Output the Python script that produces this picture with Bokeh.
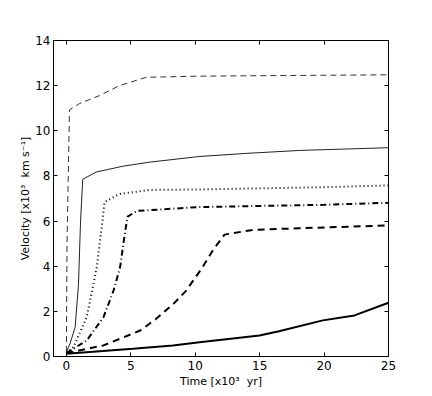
from bokeh.plotting import figure
from bokeh.models import LinearAxis, Range1d, FixedTicker, CustomJSTickFormatter
from bokeh.embed import file_html
from bokeh.resources import INLINE

# Data (time in 10^3 yr, velocity in 10^3 km/s)
t_a = [0.0, 0.05, 0.24, 1.0, 2.57, 4.12, 6.2, 10.3, 15.0, 20.0, 25.0]
v_a = [0.2, 5.0, 10.93, 11.2, 11.56, 12.0, 12.37, 12.42, 12.44, 12.46, 12.48]

t_b = [0.0, 0.3, 0.68, 0.94, 1.1, 1.27, 2.3, 4.38, 6.45, 10.3, 14.0, 18.1, 25.0]
v_b = [0.19, 0.6, 1.3, 3.2, 6.0, 7.85, 8.17, 8.43, 8.61, 8.86, 9.0, 9.13, 9.25]

t_c = [0.0, 0.55, 1.58, 2.36, 2.8, 2.96, 4.12, 6.45, 10.3, 15.0, 20.0, 25.0]
v_c = [0.15, 0.41, 1.74, 3.96, 6.0, 6.84, 7.2, 7.38, 7.4, 7.45, 7.5, 7.58]

t_d = [0.0, 1.58, 2.88, 3.66, 4.17, 4.55, 4.75, 5.47, 10.3, 15.0, 20.0, 25.0]
v_d = [0.15, 0.71, 1.74, 2.92, 3.96, 5.5, 6.2, 6.45, 6.62, 6.67, 6.72, 6.81]

t_e = [0.0, 2.88, 5.73, 6.97, 8.31, 9.3, 10.5, 11.36, 12.27, 14.47, 18.0, 24.7]
v_e = [0.15, 0.49, 1.15, 1.67, 2.33, 2.92, 3.9, 4.7, 5.4, 5.61, 5.68, 5.8]

t_f = [0.0, 5.15, 8.26, 10.33, 14.99, 16.5, 19.9, 22.36, 25.0]
v_f = [0.12, 0.34, 0.49, 0.63, 0.93, 1.12, 1.6, 1.82, 2.38]

x_ticks = [0, 5, 10, 15, 20, 25]
y_ticks = [0, 2, 4, 6, 8, 10, 12, 14]

p = figure(width=424, height=388, output_backend="svg", toolbar_location=None,
           x_range=Range1d(-1, 25), y_range=Range1d(0, 14),
           min_border_left=53, min_border_top=40, min_border_right=35, min_border_bottom=32,
           frame_width=335, frame_height=316)
p.grid.visible = False
p.outline_line_color = "black"
p.outline_line_width = 1
p.background_fill_color = "white"
p.border_fill_color = "white"

p.line(t_a, v_a, line_color="#333333", line_width=1, line_dash="6 4")
p.line(t_b, v_b, line_color="#222222", line_width=1)
p.line(t_c, v_c, line_color="black", line_width=2, line_dash="1 3")
p.line(t_d, v_d, line_color="black", line_width=2, line_dash="6 3 1 3")
p.line(t_e, v_e, line_color="black", line_width=2, line_dash="7 5")
p.line(t_f, v_f, line_color="black", line_width=2)

p.xaxis.axis_label = "Time [x10³\u00a0 yr]"
p.yaxis.axis_label = "Velocity [x10³\u00a0 km s⁻¹]"

for ax in list(p.xaxis) + list(p.yaxis):
    ax.major_tick_in = 4
    ax.major_tick_out = 0
    ax.minor_tick_in = 0
    ax.minor_tick_out = 0
    ax.major_label_text_font = "DejaVu Sans"
    ax.major_label_text_font_size = "12px"
    ax.major_label_text_color = "black"
    ax.axis_label_text_font = "DejaVu Sans"
    ax.axis_label_text_font_size = "11px"
    ax.axis_label_text_font_style = "normal"
    ax.axis_label_text_color = "black"
    ax.axis_line_color = "black"

p.xaxis.major_label_standoff = 4
p.yaxis.major_label_standoff = 3
p.xaxis.axis_label_standoff = 2
p.yaxis.axis_label_standoff = 0

p.xaxis.ticker = FixedTicker(ticks=x_ticks)
p.yaxis.ticker = FixedTicker(ticks=y_ticks)

blank = CustomJSTickFormatter(code="return ''")
top = LinearAxis(ticker=FixedTicker(ticks=x_ticks), major_tick_in=4, major_tick_out=0,
                 minor_tick_in=0, minor_tick_out=0, formatter=blank,
                 axis_line_color="black", major_label_standoff=0)
right = LinearAxis(ticker=FixedTicker(ticks=y_ticks), major_tick_in=4, major_tick_out=0,
                   minor_tick_in=0, minor_tick_out=0, formatter=blank,
                   axis_line_color="black", major_label_standoff=0)
p.add_layout(top, "above")
p.add_layout(right, "right")

open("out.html", "w").write(file_html(p, INLINE))
